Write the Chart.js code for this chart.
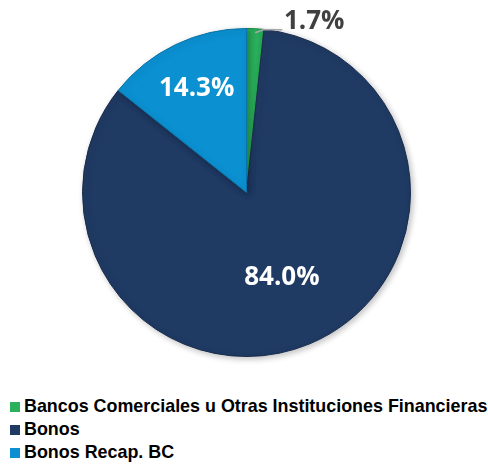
<!DOCTYPE html>
<html>
<head>
<meta charset="utf-8">
<script src="https://cdn.jsdelivr.net/npm/chart.js@4/dist/chart.umd.min.js"></script>
<style>
  body { margin: 0; background: #fff; width: 488px; height: 468px; overflow: hidden; }
  #wrap { position: relative; width: 488px; height: 384px; }
  #legend { position: absolute; left: 10px; top: 395px; font-family: "Liberation Sans", Arial, sans-serif; font-weight: bold; font-size: 17.9px; color: #000; }
  .item { height: 23px; line-height: 23px; white-space: nowrap; }
  .box { display: inline-block; width: 10px; height: 10px; margin-right: 4px; vertical-align: 0px; }
</style>
</head>
<body>
<div id="wrap"><canvas id="chartPie"></canvas></div>
<div id="legend"></div>
<script>
// --- Data ---
const categories = ['Bancos Comerciales u Otras Instituciones Financieras', 'Bonos', 'Bonos Recap. BC'];
const shares = [1.7, 84.0, 14.3];
const colors = ['#2bb05c', '#1f3a63', '#0b90d1'];
const borders = ['#1d8a45', '#172c4c', '#0873a8'];

// Label placement per slice: fraction of radius, or null for the outside label
const labelRadius = [null, 0.56, 0.7];

// --- HTML legend (one item per row) ---
const legendEl = document.getElementById('legend');
categories.forEach((name, i) => {
    const row = document.createElement('div');
    row.className = 'item';
    row.innerHTML = `<span class="box" style="background:${colors[i]}"></span>${name}`;
    legendEl.appendChild(row);
});

// --- Slice labels ---
const sliceLabelsPlugin = {
    id: 'sliceLabels',
    afterDatasetsDraw: (chart) => {
        const { ctx } = chart;
        const arcs = chart.getDatasetMeta(0).data;
        ctx.save();
        ctx.textAlign = 'center';
        ctx.textBaseline = 'middle';
        arcs.forEach((arc, i) => {
            const { x, y, startAngle, endAngle, outerRadius } = arc.getProps(['x', 'y', 'startAngle', 'endAngle', 'outerRadius'], true);
            const mid = (startAngle + endAngle) / 2;
            const text = shares[i].toFixed(1) + '%';
            if (labelRadius[i] === null) {
                // small slice: leader line to a label outside the pie
                const ex = x + Math.cos(mid) * outerRadius;
                const ey = y + Math.sin(mid) * outerRadius;
                ctx.strokeStyle = '#a6a6a6';
                ctx.lineWidth = 1.5;
                ctx.beginPath();
                ctx.moveTo(ex, ey + 4);
                ctx.lineTo(ex + 8, ey + 1);
                ctx.lineTo(ex + 27, ey + 1);
                ctx.stroke();
                ctx.fillStyle = '#404040';
                ctx.font = 'bold 26px "Open Sans", sans-serif';
                ctx.fillText(text, ex + 59, ey - 7);
            } else {
                const r = outerRadius * labelRadius[i];
                ctx.fillStyle = '#ffffff';
                ctx.font = 'bold 26px "Open Sans", sans-serif';
                ctx.fillText(text, x + Math.cos(mid) * r, y + Math.sin(mid) * r);
            }
        });
        ctx.restore();
    }
};

// soft shadow under the pie
const shadowPlugin = {
    id: 'pieShadow',
    beforeDatasetsDraw: (chart) => {
        const { ctx } = chart;
        ctx.save();
        ctx.shadowColor = 'rgba(0,0,0,0.25)';
        ctx.shadowBlur = 6;
        ctx.shadowOffsetX = 2;
        ctx.shadowOffsetY = 2;
    },
    afterDatasetsDraw: (chart) => {
        chart.ctx.restore();
    }
};

new Chart(document.getElementById('chartPie'), {
    type: 'pie',
    data: {
        labels: categories,
        datasets: [{
            data: shares,
            backgroundColor: colors,
            borderColor: borders,
            borderWidth: 1
        }]
    },
    options: {
        responsive: true,
        maintainAspectRatio: false,
        animation: false,
        rotation: 0,
        layout: { padding: { top: 28, bottom: 27, left: 82, right: 77 } },
        plugins: {
            legend: { display: false },
            tooltip: { enabled: false }
        }
    },
    plugins: [shadowPlugin, sliceLabelsPlugin]
});
</script>
</body>
</html>
